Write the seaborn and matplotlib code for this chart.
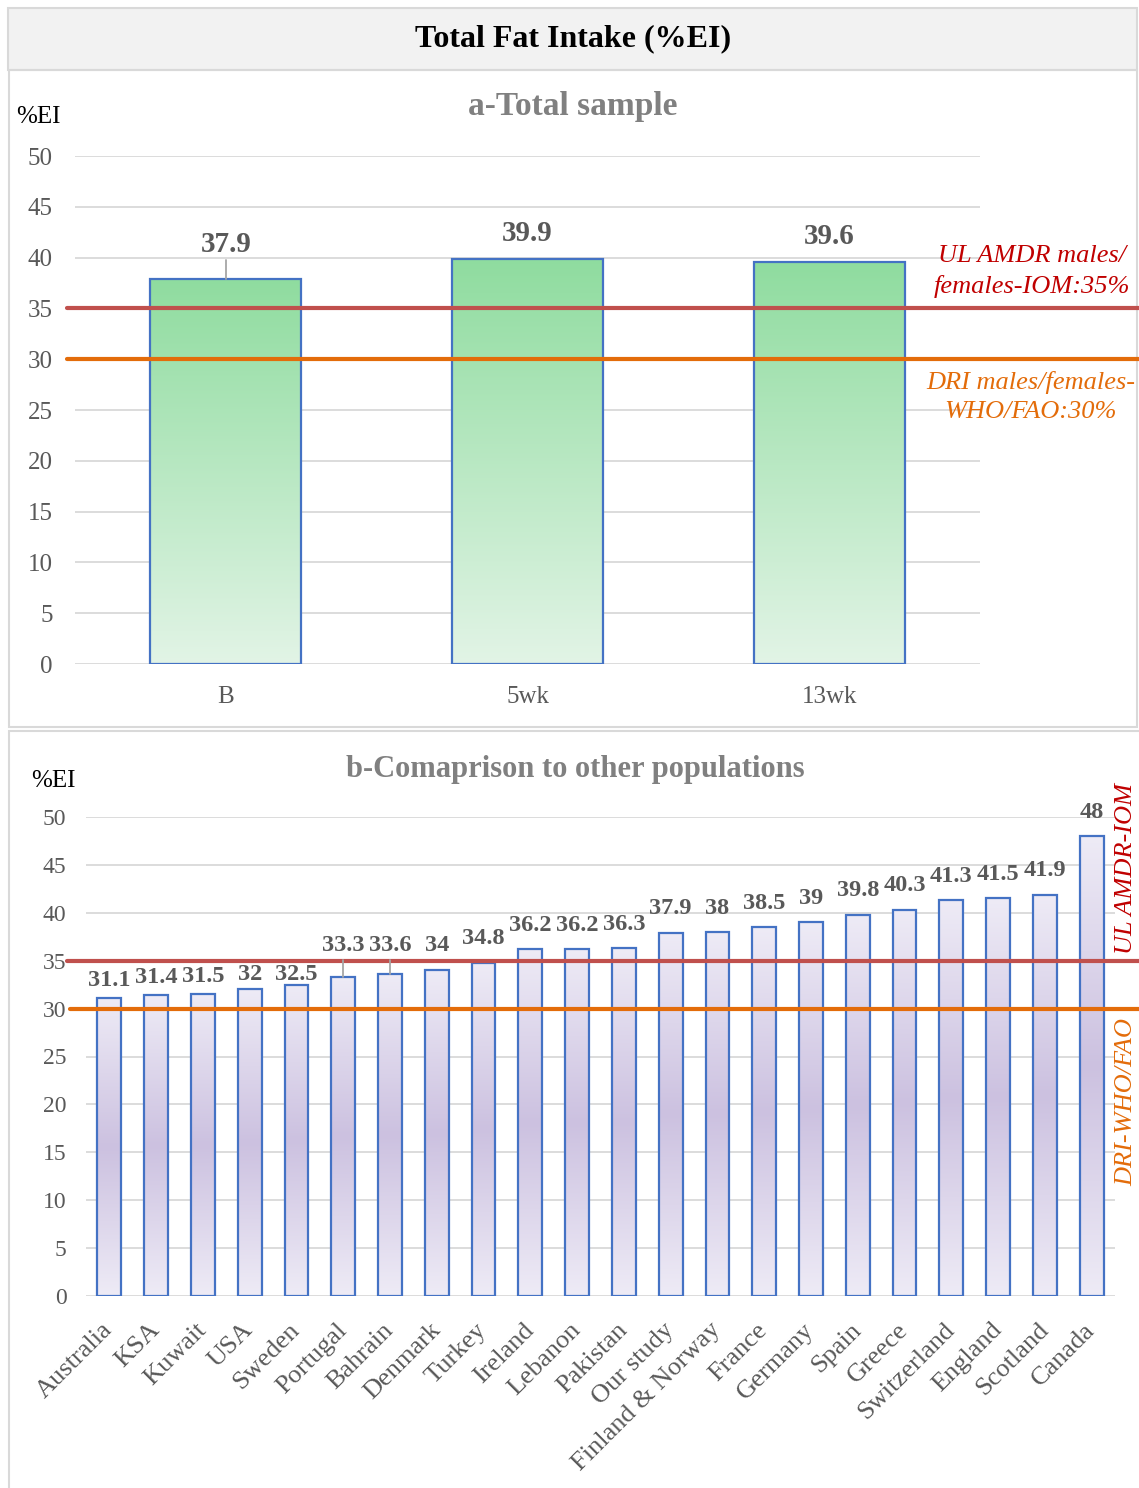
import numpy as np
import matplotlib
matplotlib.use("Agg")
import matplotlib.pyplot as plt
from matplotlib.colors import LinearSegmentedColormap
from matplotlib.patches import Rectangle
import seaborn as sns

# data
sample_groups = ["B", "5wk", "13wk"]
sample_fat = [37.9, 39.9, 39.6]

countries = ["Australia", "KSA", "Kuwait", "USA", "Sweden", "Portugal", "Bahrain",
             "Denmark", "Turkey", "Ireland", "Lebanon", "Pakistan", "Our study",
             "Finland & Norway", "France", "Germany", "Spain", "Greece",
             "Switzerland", "England", "Scotland", "Canada"]
country_fat = [31.1, 31.4, 31.5, 32, 32.5, 33.3, 33.6, 34, 34.8, 36.2, 36.2, 36.3,
               37.9, 38, 38.5, 39, 39.8, 40.3, 41.3, 41.5, 41.9, 48]
yticks = [0, 5, 10, 15, 20, 25, 30, 35, 40, 45, 50]
ul_amdr = 35
dri = 30

sns.set_style("white")
plt.rcParams["font.family"] = ["Liberation Serif", "DejaVu Serif"]

W, H = 1139, 1488
fig = plt.figure(figsize=(W / 100, H / 100), dpi=100)

GRAY = "#595959"
RED = "#C0504D"
ORANGE = "#E36C0A"
EDGE = "#4472C4"


def fx(px):
    return px / W


def fy(py):
    return 1 - py / H


# boxes behind everything
for (x0, y0, x1, y1, fc) in [(8, 8, 1137, 70, "#F2F2F2"), (9, 70, 1137, 727, "none"),
                             (9, 731, 1144, 1492, "none")]:
    fig.patches.append(Rectangle((fx(x0), fy(y1)), fx(x1 - x0), (y1 - y0) / H,
                                 transform=fig.transFigure, fc=fc, ec="#D9D9D9",
                                 lw=1.5, zorder=-1))
fig.text(fx(573), fy(39), "Total Fat Intake (%EI)", ha="center", va="center",
         fontsize=23, fontweight="bold", color="black")

green_cmap = LinearSegmentedColormap.from_list("g", ["#E2F4E6", "#8FDC9F"])
purple_cmap = LinearSegmentedColormap.from_list("p", ["#EEEBF6", "#CCC1E0", "#EEEBF6"])


def gradient_bars(ax, cmap):
    xl, yl = ax.get_xlim(), ax.get_ylim()
    grad = np.linspace(0, 1, 256).reshape(-1, 1)
    for p in ax.patches:
        x, w, h = p.get_x(), p.get_width(), p.get_height()
        im = ax.imshow(grad, extent=[x, x + w, 0, h], origin="lower", aspect="auto",
                       cmap=cmap, zorder=2)
        im.set_clip_path(p)
        p.set_facecolor("none")
        p.set_zorder(3)
    ax.set_xlim(xl)
    ax.set_ylim(yl)


def style_axis(ax, ypad, xpad, ysize, xsize):
    ax.set_facecolor("none")
    ax.set_ylim(0, 50)
    ax.set_yticks(yticks)
    ax.grid(axis="y", color="#D9D9D9", lw=1.3, zorder=0)
    ax.set_axisbelow(True)
    sns.despine(ax=ax, left=True, bottom=True)
    ax.tick_params(axis="y", length=0, pad=ypad, labelsize=ysize, labelcolor=GRAY)
    ax.tick_params(axis="x", length=0, pad=xpad, labelsize=xsize, labelcolor=GRAY)
    ax.set_xlabel("")
    ax.set_ylabel("")


# panel a
ax1 = fig.add_axes([fx(75), fy(664), fx(905), 508 / H])
sns.barplot(x=sample_groups, y=sample_fat, ax=ax1, width=0.5, color="#8FDC9F",
            edgecolor=EDGE, linewidth=1.6, saturation=1)
ax1.set_xlim(-0.5, 2.5)
style_axis(ax1, 16, 16, 18, 18)
gradient_bars(ax1, green_cmap)
ax1.axhline(ul_amdr, xmin=-0.009, xmax=1.2, color=RED, lw=3, clip_on=False, zorder=4)
ax1.axhline(dri, xmin=-0.009, xmax=1.2, color=ORANGE, lw=3, clip_on=False, zorder=4)
for i, v in enumerate(sample_fat):
    ly = max(v + 2.65, 41.4)
    if ly - v > 3:
        ax1.plot([i, i], [v, ly - 1.6], color="#A6A6A6", lw=1.3, zorder=4)
    ax1.text(i, ly - 0.15, f"{v:g}", ha="center", va="center", fontsize=21,
             fontweight="bold", color=GRAY)

fig.text(fx(16), fy(117), "%EI", ha="left", va="center", fontsize=18, color="black")
fig.text(fx(573), fy(106), "a-Total sample", ha="center", va="center", fontsize=24,
         fontweight="bold", color="#808080")
fig.text(fx(1032), fy(256), "UL AMDR males/", ha="center", va="center", fontsize=19,
         style="italic", color="#C00000")
fig.text(fx(1032), fy(286), "females-IOM:35%", ha="center", va="center", fontsize=19,
         style="italic", color="#C00000")
fig.text(fx(1031), fy(382), "DRI males/females-", ha="center", va="center", fontsize=19,
         style="italic", color=ORANGE)
fig.text(fx(1031), fy(412), "WHO/FAO:30%", ha="center", va="center", fontsize=19,
         style="italic", color=ORANGE)

# panel b
ax2 = fig.add_axes([fx(86), fy(1296), fx(1029), 479 / H])
sns.barplot(x=countries, y=country_fat, ax=ax2, width=0.51, color="#CCC1E0",
            edgecolor=EDGE, linewidth=1.6, saturation=1)
ax2.set_xlim(-0.5, len(countries) - 0.5)
style_axis(ax2, 14, 22, 17, 19)
for lab in ax2.get_xticklabels():
    lab.set_rotation(45)
    lab.set_ha("right")
    lab.set_va("center")
    lab.set_rotation_mode("anchor")
gradient_bars(ax2, purple_cmap)
ax2.axhline(ul_amdr, xmin=-0.018, xmax=1.03, color=RED, lw=3, clip_on=False, zorder=4)
ax2.axhline(dri, xmin=-0.016, xmax=1.03, color=ORANGE, lw=3, clip_on=False, zorder=4)
for i, v in enumerate(country_fat):
    ly = v + 2.5
    if 33.0 < ly < 36.6:
        ly = min(v + 1.8, 33.6) if v < 33 else 36.6
    if ly - v > 2.8:
        ax2.plot([i, i], [v, ly - 1.5], color="#A6A6A6", lw=1.3, zorder=4)
    ax2.text(i, ly, f"{v:g}", ha="center", va="center", fontsize=17.5,
             fontweight="bold", color=GRAY)

fig.text(fx(31), fy(781), "%EI", ha="left", va="center", fontsize=18, color="black")
fig.text(fx(575), fy(769), "b-Comaprison to other populations", ha="center", va="center",
         fontsize=22, fontweight="bold", color="#808080")
fig.text(fx(1126), fy(868), "UL AMDR-IOM", ha="center", va="center", rotation=90,
         fontsize=19, style="italic", color="#C00000")
fig.text(fx(1126), fy(1102), "DRI-WHO/FAO", ha="center", va="center", rotation=90,
         fontsize=19, style="italic", color=ORANGE)

fig.savefig("out.png", dpi=100)
